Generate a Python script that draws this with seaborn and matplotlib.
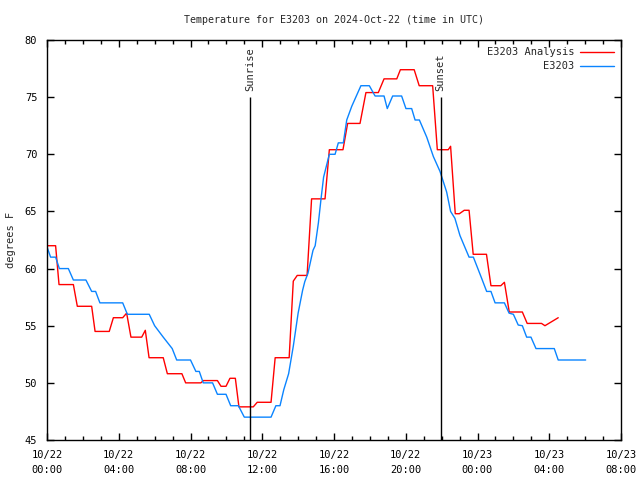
import pandas as pd
import numpy as np
import matplotlib
matplotlib.use("Agg")
import matplotlib.pyplot as plt
import matplotlib.dates as mdates
import seaborn as sns

# ===============================
# Data (hours after 2024-10-22 00:00 UTC, degrees F)
# ===============================
analysis_hours = [0.0, 0.48, 0.67, 1.47, 1.69, 2.49, 2.68, 3.47, 3.70, 4.22, 4.44, 4.68,
                  5.28, 5.48, 5.69, 6.48, 6.71, 7.52, 7.73, 8.58, 8.71, 9.50, 9.70, 9.98,
                  10.20, 10.50, 10.70, 11.50, 11.72, 12.49, 12.72, 13.50, 13.73, 13.95,
                  14.50, 14.75, 15.50, 15.74, 16.50, 16.76, 17.45, 17.78, 18.47, 18.79,
                  19.50, 19.70, 20.47, 20.75, 21.50, 21.76, 22.37, 22.50, 22.76, 22.99,
                  23.26, 23.53, 23.76, 24.50, 24.75, 25.30, 25.50, 25.77, 26.50, 26.77,
                  27.57, 27.76, 28.50]
analysis_temp = [62.0, 62.0, 58.6, 58.6, 56.7, 56.7, 54.5, 54.5, 55.7, 55.7, 56.1, 54.0,
                 54.0, 54.6, 52.2, 52.2, 50.8, 50.8, 50.0, 50.0, 50.2, 50.2, 49.7, 49.7,
                 50.4, 50.4, 47.9, 47.9, 48.3, 48.3, 52.2, 52.2, 58.9, 59.4,
                 59.4, 66.1, 66.1, 70.4, 70.4, 72.7, 72.7, 75.4, 75.4, 76.6,
                 76.6, 77.4, 77.4, 76.0, 76.0, 70.4, 70.4, 70.7, 64.8, 64.8,
                 65.1, 65.1, 61.25, 61.25, 58.5, 58.5, 58.8, 56.2, 56.2, 55.2,
                 55.2, 55.0, 55.7]

obs_hours = [0.0, 0.20, 0.48, 0.69, 1.19, 1.47, 2.17, 2.49, 2.71, 2.95, 4.22, 4.48,
             5.70, 6.00, 6.48, 6.98, 7.23, 8.00, 8.30, 8.49, 8.71, 9.23, 9.50, 9.98,
             10.24, 10.67, 11.00, 12.49, 12.76, 12.99, 13.20, 13.47, 13.73, 14.00,
             14.25, 14.37, 14.55, 14.83, 14.95, 15.13, 15.27, 15.42, 15.74, 16.06,
             16.24, 16.52, 16.71, 16.99, 17.50, 17.97, 18.29, 18.79, 18.97, 19.27,
             19.77, 20.01, 20.33, 20.52, 20.76, 21.17, 21.54, 21.91, 22.28, 22.50,
             22.74, 23.02, 23.26, 23.53, 23.77, 24.23, 24.51, 24.75, 24.98, 25.50,
             25.76, 26.00, 26.27, 26.50, 26.74, 26.98, 27.26, 28.28, 28.50, 30.03]
obs_temp = [61.9, 61.0, 61.0, 60.0, 60.0, 59.0, 59.0, 58.0, 58.0, 57.0, 57.0, 56.0,
            56.0, 55.0, 54.0, 53.0, 52.0, 52.0, 51.0, 51.0, 50.0, 50.0, 49.0, 49.0,
            48.0, 48.0, 47.0, 47.0, 48.0, 48.0, 49.4, 50.8, 53.2, 56.1,
            58.1, 58.85, 59.6, 61.6, 62.0, 64.0, 66.0, 68.0, 70.0, 70.0,
            71.0, 71.0, 73.0, 74.2, 76.0, 76.0, 75.1, 75.1, 74.0, 75.1,
            75.1, 74.0, 74.0, 73.0, 73.0, 71.5, 69.8, 68.5, 66.7, 65.0,
            64.4, 62.9, 62.0, 61.0, 61.0, 59.15, 58.0, 58.0, 57.0, 57.0,
            56.1, 56.0, 55.06, 55.0, 54.0, 54.0, 53.0, 53.0, 52.0, 52.0]

series_names = ["E3203 Analysis", "E3203"]
series_colors = ["#ff0000", "#0a84ff"]
sun_events = ["Sunrise", "Sunset"]
sun_hours = [11.32, 21.95]

START = pd.Timestamp("2024-10-22 00:00")

df = pd.concat([
    pd.DataFrame({"time": START + pd.to_timedelta(analysis_hours, unit="h"),
                  "temp": analysis_temp, "serie": series_names[0]}),
    pd.DataFrame({"time": START + pd.to_timedelta(obs_hours, unit="h"),
                  "temp": obs_temp, "serie": series_names[1]}),
], ignore_index=True)

# ===============================
# Estilo
# ===============================
sns.set_style("ticks")
plt.rcParams['font.family'] = ['DejaVu Sans Mono']
plt.rcParams['font.size'] = 7.5

fig = plt.figure(figsize=(6.4, 4.8), dpi=100)
ax = fig.add_axes([47 / 640, 40 / 480, 574 / 640, 400 / 480])

sns.lineplot(data=df, x="time", y="temp", hue="serie", hue_order=series_names,
             palette=dict(zip(series_names, series_colors)), estimator=None,
             sort=False, linewidth=1.0, ax=ax)

# Sunrise / sunset marks
for name, h in zip(sun_events, sun_hours):
    t = START + pd.Timedelta(hours=h)
    ax.vlines(t, 45, 75, color="black", linewidth=1.0)
    ax.text(t, 75.5, name, rotation=90, ha="center", va="bottom", fontsize=7.5)

# ===============================
# Eixos
# ===============================
ax.set_xlim(START, START + pd.Timedelta(hours=32))
ax.set_ylim(45, 80)
ax.xaxis.set_major_locator(mdates.HourLocator(byhour=[0, 4, 8, 12, 16, 20]))
ax.xaxis.set_minor_locator(mdates.HourLocator())
ax.xaxis.set_major_formatter(mdates.DateFormatter("%m/%d\n%H:%M"))
ax.set_yticks(np.arange(45, 81, 5))

ax.tick_params(which="both", direction="in", top=True, right=True, labelsize=7.5,
               width=1.0, colors="black")
ax.tick_params(which="major", length=5, pad=7)
ax.tick_params(which="minor", length=3)
for lbl in ax.get_xticklabels():
    lbl.set_linespacing(1.6)
for s in ax.spines.values():
    s.set_linewidth(1.0)
    s.set_color("black")
    s.set_visible(True)

ax.set_xlabel("")
ax.set_ylabel("degrees F", fontsize=7.5, labelpad=6)
ax.set_title("Temperature for E3203 on 2024-Oct-22 (time in UTC)", fontsize=7.2, pad=12)
ax.grid(False)

leg = ax.legend(loc="upper right", frameon=False, markerfirst=False, fontsize=7.5,
                handlelength=3.2, handletextpad=0.6, borderaxespad=0.3, labelspacing=0.4)

plt.savefig("out.png", dpi=100)
